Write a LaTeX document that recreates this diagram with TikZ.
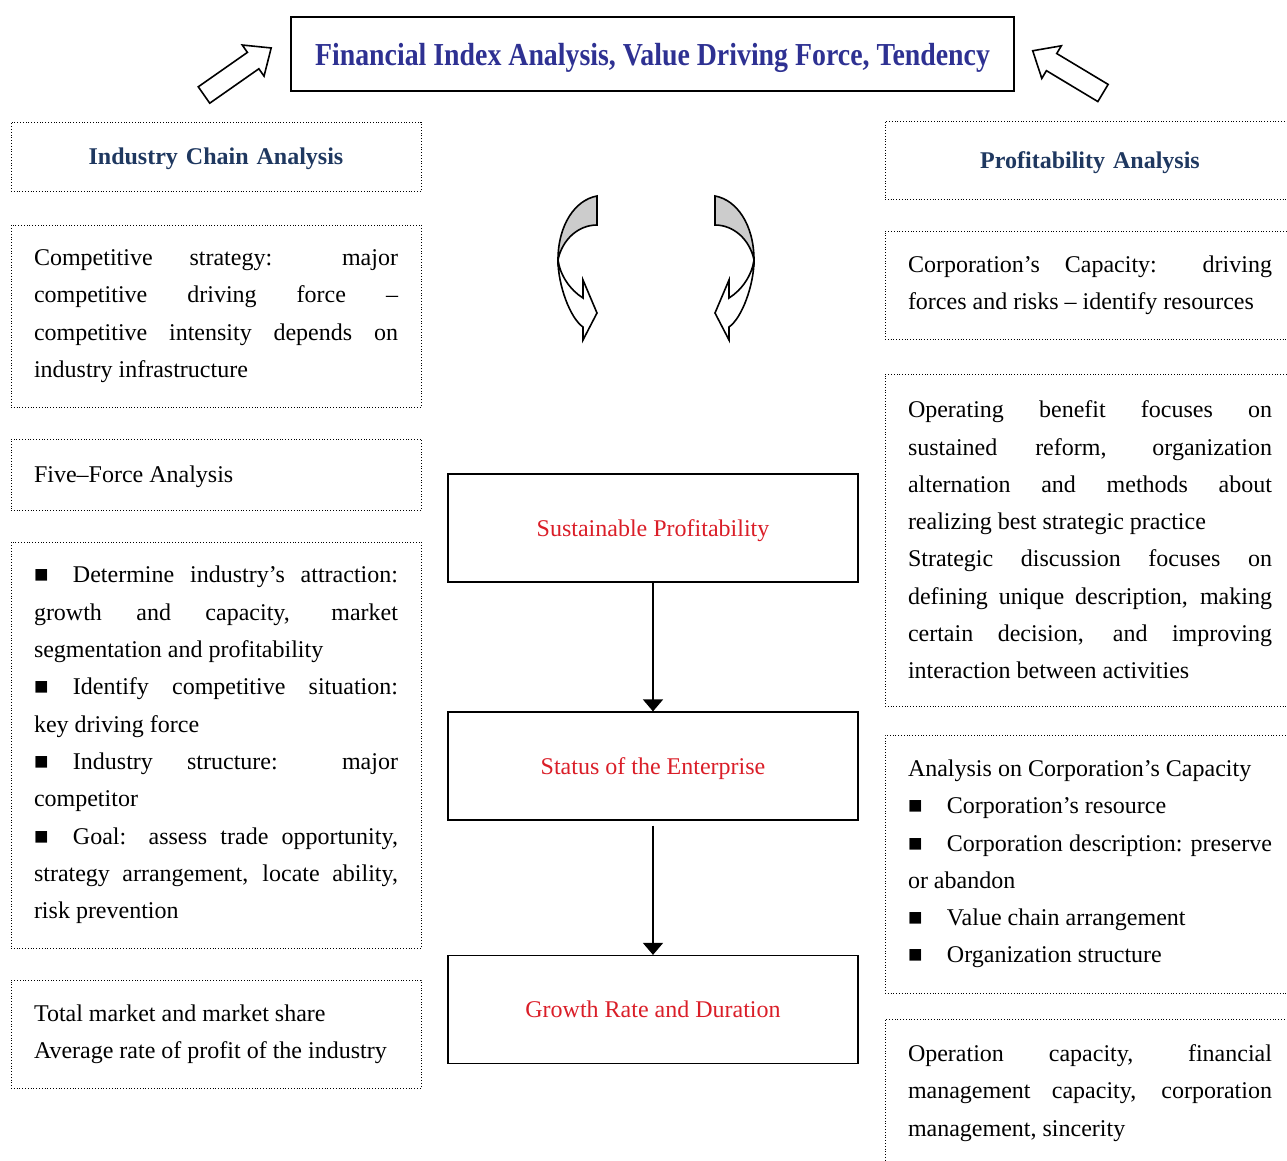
\documentclass[tikz,border=0pt]{standalone}
\usepackage{fontspec}
\setmainfont{Liberation Serif}
\newfontfamily\titlefont[FakeStretch=0.87]{Liberation Serif}
\usetikzlibrary{arrows.meta}
\definecolor{titleblue}{RGB}{46,49,146}
\definecolor{headblue}{RGB}{31,56,96}
\definecolor{stagered}{RGB}{218,30,40}
\definecolor{arrowgray}{RGB}{204,204,204}
\newcommand\bodyfont{\fontsize{12}{18.65}\selectfont\tolerance=10000\hyphenpenalty=10000}
\newcommand\bul{\makebox[19.5pt][l]{■}}
\tikzset{
  dotbox/.style={draw, densely dotted, line width=0.4pt, text width=182pt, inner xsep=11.5pt, align=justify, font=\bodyfont},
  headbox/.style={dotbox, text depth=0pt, align=center, font=\bodyfont\bfseries, text=headblue},
  stagebox/.style={draw, line width=0.6pt, minimum width=205pt, minimum height=54pt, text depth=0pt, text=stagered, font=\bodyfont},
  flowarrow/.style={line width=0.8pt, -{Triangle[width=10pt,length=6pt]}},
  openarrow/.pic={
    \draw[line width=0.8pt, fill=white] (0,-10) -- (60,-10) -- (60,-19) -- (82,0) -- (60,19) -- (60,10) -- (0,10) -- cycle;
  },
  turnarrow/.pic={
    \filldraw[fill=arrowgray, line width=0.8pt] (39,-64) .. controls (17,-60) and (0,-35) .. (0,0) .. controls (4,-20) and (20,-35) .. (39,-35) -- cycle;
    \filldraw[fill=white, line width=0.8pt] (0,0) .. controls (0,25) and (12,58) .. (25,67) -- (25,80) -- (39,53) -- (25,20) -- (25,38) .. controls (12,30) and (2,15) .. (0,0) -- cycle;
  }
}
\begin{document}
\begin{tikzpicture}[x=0.5pt, y=-0.5pt]
\useasboundingbox (0,0) rectangle (1287,1161);
\clip (0,0) rectangle (1287,1161);

% Title and the two block arrows
\node[draw, line width=0.6pt, minimum width=361.5pt, minimum height=37pt, text depth=0pt, text=titleblue, font=\titlefont\fontsize{16}{19}\selectfont\bfseries] (fin) at (652.5,54) {Financial Index Analysis, Value Driving Force, Tendency};
\pic[rotate=35] at (204,95) {openarrow};
\pic[rotate=149] at (1103,93) {openarrow};

% Left column
\node[headbox, minimum height=34.5pt] (ica) at (216,156.5) {Industry Chain Analysis};
\node[dotbox, minimum height=91pt] (cst) at (216,316) {Competitive strategy: major\linebreak competitive driving force --\linebreak competitive intensity depends on\linebreak industry infrastructure};
\node[dotbox, text depth=0pt, minimum height=35.5pt] (ffa) at (216,474.5) {Five--Force Analysis};
\node[dotbox, minimum height=203pt] (det) at (216,745) {\bul Determine industry’s attraction:\linebreak growth and capacity, market\linebreak segmentation and profitability\par
\bul Identify competitive situation:\linebreak key driving force\par
\bul Industry structure: major\linebreak competitor\par
\bul Goal: assess trade opportunity,\linebreak strategy arrangement, locate ability,\linebreak risk prevention};
\node[dotbox, minimum height=54pt] (tms) at (216,1034) {Total market and market share\par Average rate of profit of the industry};

% Middle column
\pic at (558,260) {turnarrow};
\pic[xscale=-1] at (754,260) {turnarrow};
\node[stagebox] (sp) at (653,528) {Sustainable Profitability};
\node[stagebox] (se) at (653,766) {Status of the Enterprise};
\node[stagebox] (gr) at (653,1009.5) {Growth Rate and Duration};
\draw[flowarrow] (sp.south) -- (se.north);
\draw[flowarrow, shorten <=2.5pt] (se.south) -- (gr.north);

% Right column
\node[headbox, minimum height=39pt] (pa) at (1090,160) {Profitability Analysis};
\node[dotbox, minimum height=54pt] (cc) at (1090,285) {Corporation’s Capacity: driving\linebreak forces and risks -- identify resources};
\node[dotbox, minimum height=166pt] (ob) at (1090,540) {Operating benefit focuses on\linebreak sustained reform, organization\linebreak alternation and methods about\linebreak realizing best strategic practice\par
Strategic discussion focuses on\linebreak defining unique description, making\linebreak certain decision, and improving\linebreak interaction between activities};
\node[dotbox, minimum height=129pt] (aoc) at (1090,864) {Analysis on Corporation’s Capacity\par
\bul Corporation’s resource\par
\bul Corporation description: preserve\linebreak or abandon\par
\bul Value chain arrangement\par
\bul Organization structure};
\node[dotbox, minimum height=74pt] (opc) at (1090,1093) {Operation capacity, financial\linebreak management capacity, corporation\linebreak management, sincerity};
\end{tikzpicture}
\end{document}
